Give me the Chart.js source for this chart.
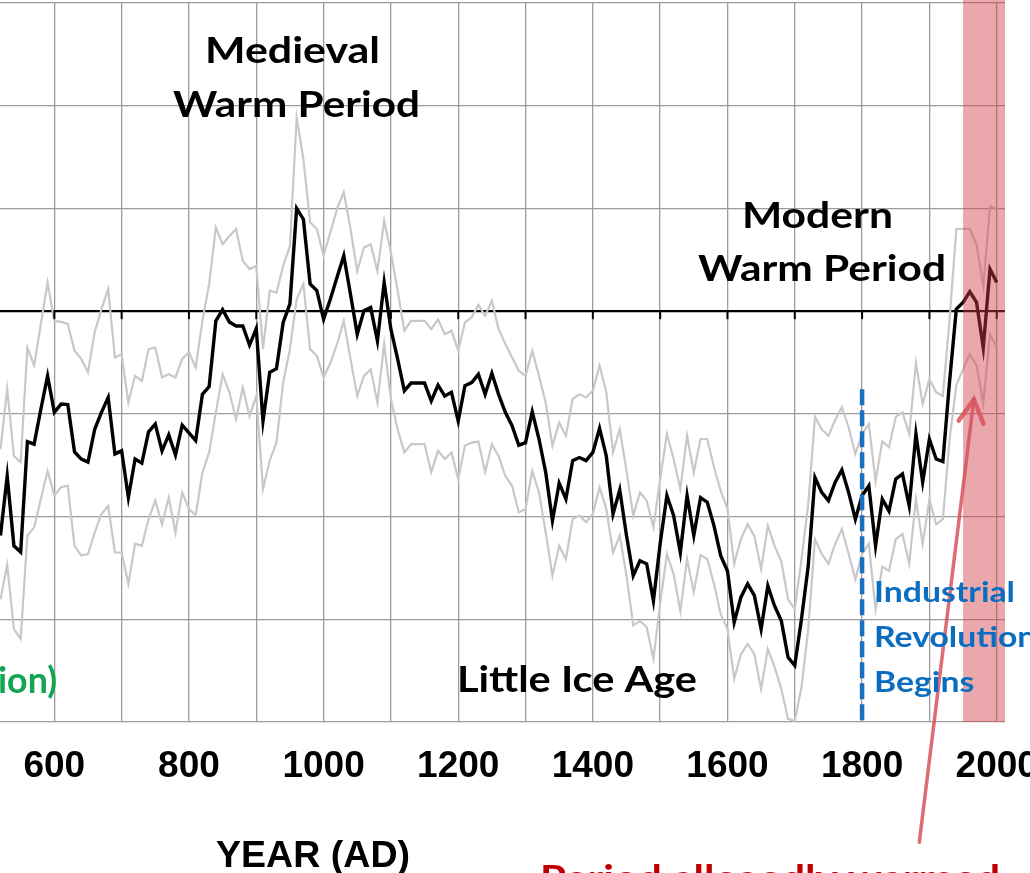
<!DOCTYPE html>
<html>
<head>
<meta charset="utf-8">
<title>Temperature reconstruction, AD 520-2000</title>
<script src="https://cdn.jsdelivr.net/npm/chart.js@4.4.1/dist/chart.umd.min.js"></script>
<style>
  html, body { margin: 0; padding: 0; background: #fff; }
  canvas { display: block; }
</style>
</head>
<body>
<canvas id="reconChart" width="1030" height="873"></canvas>
<script>
// Decadal temperature anomaly reconstruction with its upper / lower error band
const years = [
  520, 530, 540, 550, 560, 570, 580, 590, 600, 610, 620, 630, 640, 650, 660, 670, 680, 690, 700, 710,
  720, 730, 740, 750, 760, 770, 780, 790, 800, 810, 820, 830, 840, 850, 860, 870, 880, 890, 900, 910,
  920, 930, 940, 950, 960, 970, 980, 990, 1000, 1010, 1020, 1030, 1040, 1050, 1060, 1070, 1080, 1090, 1100, 1110,
  1120, 1130, 1140, 1150, 1160, 1170, 1180, 1190, 1200, 1210, 1220, 1230, 1240, 1250, 1260, 1270, 1280, 1290, 1300, 1310,
  1320, 1330, 1340, 1350, 1360, 1370, 1380, 1390, 1400, 1410, 1420, 1430, 1440, 1450, 1460, 1470, 1480, 1490, 1500, 1510,
  1520, 1530, 1540, 1550, 1560, 1570, 1580, 1590, 1600, 1610, 1620, 1630, 1640, 1650, 1660, 1670, 1680, 1690, 1700, 1710,
  1720, 1730, 1740, 1750, 1760, 1770, 1780, 1790, 1800, 1810, 1820, 1830, 1840, 1850, 1860, 1870, 1880, 1890, 1900, 1910,
  1920, 1930, 1940, 1950, 1960, 1970, 1980, 1990, 2000
];

const anomaly = [
  -0.437, -0.321, -0.457, -0.469, -0.254, -0.259, -0.191, -0.126, -0.197, -0.181, -0.182, -0.274, -0.288, -0.294, -0.230, -0.197, -0.168, -0.278, -0.272, -0.363,
  -0.288, -0.296, -0.235, -0.220, -0.272, -0.241, -0.280, -0.222, -0.237, -0.252, -0.162, -0.147, -0.019, 0.003, -0.021, -0.029, -0.029, -0.066, -0.034, -0.214,
  -0.119, -0.112, -0.022, 0.014, 0.200, 0.179, 0.053, 0.040, -0.016, 0.023, 0.066, 0.108, 0.033, -0.045, 0.001, 0.007, -0.058, 0.056, -0.035, -0.093,
  -0.155, -0.140, -0.140, -0.140, -0.175, -0.144, -0.165, -0.158, -0.214, -0.145, -0.139, -0.123, -0.162, -0.121, -0.162, -0.197, -0.223, -0.261, -0.256, -0.196,
  -0.249, -0.314, -0.408, -0.335, -0.366, -0.291, -0.285, -0.291, -0.275, -0.228, -0.282, -0.395, -0.348, -0.437, -0.515, -0.486, -0.492, -0.564, -0.453, -0.359,
  -0.398, -0.470, -0.359, -0.437, -0.363, -0.372, -0.418, -0.476, -0.506, -0.606, -0.557, -0.531, -0.554, -0.619, -0.535, -0.574, -0.603, -0.674, -0.690, -0.599,
  -0.496, -0.324, -0.353, -0.369, -0.333, -0.309, -0.353, -0.405, -0.359, -0.340, -0.457, -0.366, -0.389, -0.327, -0.317, -0.379, -0.239, -0.333, -0.249, -0.288,
  -0.293, -0.136, 0.004, 0.017, 0.038, 0.017, -0.071, 0.082, 0.056
];

const upperBound = [
  -0.269, -0.152, -0.282, -0.294, -0.071, -0.106, -0.025, 0.056, -0.019, -0.021, -0.025, -0.077, -0.093, -0.119, -0.041, 0.004, 0.043, -0.090, -0.084, -0.178,
  -0.126, -0.136, -0.074, -0.071, -0.129, -0.123, -0.129, -0.093, -0.080, -0.110, -0.019, 0.053, 0.163, 0.130, 0.146, 0.160, 0.098, 0.082, 0.088, -0.074,
  0.040, 0.036, 0.088, 0.127, 0.377, 0.296, 0.173, 0.160, 0.108, 0.153, 0.199, 0.232, 0.160, 0.078, 0.124, 0.130, 0.078, 0.176, 0.114, 0.040,
  -0.038, -0.019, -0.019, -0.019, -0.035, -0.016, -0.045, -0.038, -0.077, -0.022, -0.012, 0.012, -0.009, 0.020, -0.035, -0.064, -0.090, -0.116, -0.126, -0.077,
  -0.126, -0.178, -0.262, -0.217, -0.243, -0.171, -0.162, -0.168, -0.155, -0.106, -0.158, -0.275, -0.230, -0.311, -0.398, -0.353, -0.369, -0.421, -0.327, -0.239,
  -0.288, -0.346, -0.243, -0.314, -0.249, -0.249, -0.304, -0.350, -0.385, -0.492, -0.444, -0.415, -0.438, -0.502, -0.418, -0.457, -0.487, -0.561, -0.580, -0.483,
  -0.376, -0.206, -0.230, -0.243, -0.212, -0.187, -0.226, -0.278, -0.239, -0.220, -0.331, -0.253, -0.265, -0.206, -0.197, -0.239, -0.101, -0.181, -0.132, -0.158,
  -0.165, -0.016, 0.160, 0.160, 0.160, 0.130, 0.049, 0.204, 0.199
];

const lowerBound = [
  -0.561, -0.494, -0.619, -0.638, -0.437, -0.421, -0.366, -0.311, -0.359, -0.343, -0.340, -0.457, -0.476, -0.473, -0.431, -0.395, -0.379, -0.470, -0.470, -0.531,
  -0.453, -0.457, -0.405, -0.369, -0.415, -0.363, -0.431, -0.353, -0.385, -0.398, -0.314, -0.275, -0.197, -0.123, -0.158, -0.210, -0.149, -0.204, -0.165, -0.346,
  -0.291, -0.256, -0.139, -0.074, 0.023, 0.053, -0.074, -0.087, -0.129, -0.101, -0.064, -0.019, -0.093, -0.165, -0.126, -0.113, -0.178, -0.064, -0.171, -0.230,
  -0.275, -0.259, -0.259, -0.259, -0.314, -0.272, -0.288, -0.275, -0.327, -0.262, -0.256, -0.254, -0.313, -0.259, -0.282, -0.321, -0.340, -0.392, -0.385, -0.311,
  -0.353, -0.431, -0.515, -0.457, -0.483, -0.405, -0.398, -0.411, -0.395, -0.343, -0.385, -0.470, -0.437, -0.515, -0.612, -0.603, -0.615, -0.677, -0.570, -0.473,
  -0.512, -0.584, -0.483, -0.547, -0.475, -0.483, -0.531, -0.590, -0.619, -0.716, -0.668, -0.648, -0.668, -0.736, -0.658, -0.693, -0.736, -0.794, -0.798, -0.732,
  -0.619, -0.444, -0.473, -0.492, -0.453, -0.424, -0.473, -0.522, -0.473, -0.453, -0.580, -0.498, -0.506, -0.444, -0.434, -0.492, -0.366, -0.453, -0.366, -0.415,
  -0.405, -0.249, -0.144, -0.113, -0.084, -0.105, -0.179, -0.045, -0.070
];

// vertical grid every 100 years, labels every 200
const gridYears = [600, 700, 800, 900, 1000, 1100, 1200, 1300, 1400, 1500, 1600, 1700, 1800, 1900, 2000];
const labelledYears = [600, 800, 1000, 1200, 1400, 1600, 1800, 2000];

const warmingStart = 1950;
const industrialStart = 1800;

function toPoints(values) {
  return years.map((yr, i) => ({ x: yr, y: values[i] }));
}

// draws bold text squeezed/stretched to a given width
function drawText(ctx, text, left, baseline, font, color, width) {
  ctx.save();
  ctx.font = font;
  ctx.fillStyle = color;
  ctx.textAlign = 'left';
  ctx.textBaseline = 'alphabetic';
  const w = ctx.measureText(text).width;
  ctx.translate(left, baseline);
  if (width) ctx.scale(width / w, 1);
  ctx.fillText(text, 0, 0);
  ctx.restore();
}

const overlays = {
  id: 'overlays',
  afterDatasetsDraw(chart) {
    const { ctx, chartArea: area, scales: { x, y } } = chart;
    const zeroY = y.getPixelForValue(0);

    // tick marks hanging from the zero line
    ctx.save();
    ctx.strokeStyle = '#000';
    ctx.lineWidth = 2;
    gridYears.forEach(yr => {
      const px = x.getPixelForValue(yr);
      ctx.beginPath();
      ctx.moveTo(px, zeroY);
      ctx.lineTo(px, zeroY + 8);
      ctx.stroke();
    });
    ctx.restore();

    // shaded modern period
    ctx.save();
    ctx.fillStyle = 'rgba(208, 62, 72, 0.45)';
    const bandLeft = x.getPixelForValue(warmingStart);
    ctx.fillRect(bandLeft, area.top - 3, area.right - bandLeft, area.bottom - area.top + 3);
    ctx.restore();

    // industrial revolution marker
    ctx.save();
    ctx.strokeStyle = '#1a6fc2';
    ctx.lineWidth = 4.5;
    ctx.setLineDash([16, 5]);
    const ix = x.getPixelForValue(industrialStart);
    ctx.beginPath();
    ctx.moveTo(ix, y.getPixelForValue(-0.152));
    ctx.lineTo(ix, area.bottom + 2);
    ctx.stroke();
    ctx.restore();

    // arrow pointing into the shaded period
    ctx.save();
    ctx.strokeStyle = 'rgba(214, 84, 90, 0.85)';
    ctx.lineWidth = 3.5;
    ctx.lineCap = 'round';
    const tipX = x.getPixelForValue(1966), tipY = y.getPixelForValue(-0.172);
    const tailX = x.getPixelForValue(1885), tailY = y.getPixelForValue(-1.034);
    ctx.beginPath();
    ctx.moveTo(tailX, tailY);
    ctx.lineTo(tipX, tipY);
    ctx.stroke();
    const ang = Math.atan2(tailY - tipY, tailX - tipX);
    const wing = 26, spread = 0.5;
    ctx.lineWidth = 4.5;
    ctx.beginPath();
    ctx.moveTo(tipX + wing * Math.cos(ang - spread), tipY + wing * Math.sin(ang - spread));
    ctx.lineTo(tipX, tipY);
    ctx.lineTo(tipX + wing * Math.cos(ang + spread), tipY + wing * Math.sin(ang + spread));
    ctx.stroke();
    ctx.restore();

    // annotations
    const calibri = 'bold 36px Lato, "Open Sans", sans-serif';
    drawText(ctx, 'Medieval', 205, 63, calibri, '#000', 175);
    drawText(ctx, 'Warm Period', 173, 117, calibri, '#000', 247);
    drawText(ctx, 'Modern', 742, 228, calibri, '#000', 151);
    drawText(ctx, 'Warm Period', 698, 281, calibri, '#000', 248);
    drawText(ctx, 'Little Ice Age', 457, 692, 'bold 37px Lato, "Open Sans", sans-serif', '#000', 240);

    const blueFont = 'bold 29px Lato, "Open Sans", sans-serif';
    ctx.font = blueFont;
    const blueScale = 141 / ctx.measureText('Industrial').width;
    ['Industrial', 'Revolution', 'Begins'].forEach((s, i) => {
      const w = ctx.measureText(s).width * blueScale;
      drawText(ctx, s, 874, [602, 647, 692][i], blueFont, '#0a6dc0', w);
    });

    drawText(ctx, 'ion)', -2, 693, calibri, '#12a552', 59);
    drawText(ctx, 'Period allegedly warmed', 540, 891, 'bold 36px Lato, "Open Sans", sans-serif', '#c00000', 460);

    drawText(ctx, 'YEAR (AD)', 216, 867, 'bold 37px "Liberation Sans", Arial, sans-serif', '#000', 194);
  }
};

const ctx = document.getElementById('reconChart').getContext('2d');
new Chart(ctx, {
  type: 'line',
  data: {
    datasets: [
      {
        label: 'Reconstruction',
        data: toPoints(anomaly),
        borderColor: '#000',
        borderWidth: 3.4,
        pointRadius: 0,
        tension: 0
      },
      {
        label: 'Upper bound',
        data: toPoints(upperBound),
        borderColor: '#c8c8c8',
        borderWidth: 2.2,
        pointRadius: 0,
        tension: 0
      },
      {
        label: 'Lower bound',
        data: toPoints(lowerBound),
        borderColor: '#c8c8c8',
        borderWidth: 2.2,
        pointRadius: 0,
        tension: 0
      }
    ]
  },
  options: {
    responsive: false,
    animation: false,
    layout: { padding: { left: 0, right: 25, top: 3, bottom: 0 } },
    plugins: {
      legend: { display: false },
      tooltip: { enabled: false }
    },
    scales: {
      x: {
        type: 'linear',
        min: 519.3,
        max: 2012.3,
        border: { display: false },
        grid: { color: '#9c9c9c', lineWidth: 1.3, drawTicks: false },
        afterBuildTicks(scale) {
          scale.ticks = gridYears.map(v => ({ value: v }));
        },
        ticks: {
          autoSkip: false,
          maxRotation: 0,
          padding: 23,
          color: '#000',
          font: { family: '"Liberation Sans", Arial, sans-serif', size: 37, weight: 'bold' },
          callback: v => labelledYears.includes(v) ? String(v) : ''
        },
        afterFit(scale) {
          scale.height = 151;
          scale.paddingLeft = 0;
          scale.paddingRight = 0;
        }
      },
      y: {
        min: -0.8,
        max: 0.6,
        border: { display: false },
        grid: {
          drawTicks: false,
          color: c => Math.abs(c.tick.value) < 1e-9 ? '#000' : '#9c9c9c',
          lineWidth: c => Math.abs(c.tick.value) < 1e-9 ? 2.2 : 1.3
        },
        ticks: { display: false, stepSize: 0.2 },
        afterFit(scale) {
          scale.width = 0;
        }
      }
    }
  },
  plugins: [overlays]
});
</script>
</body>
</html>
